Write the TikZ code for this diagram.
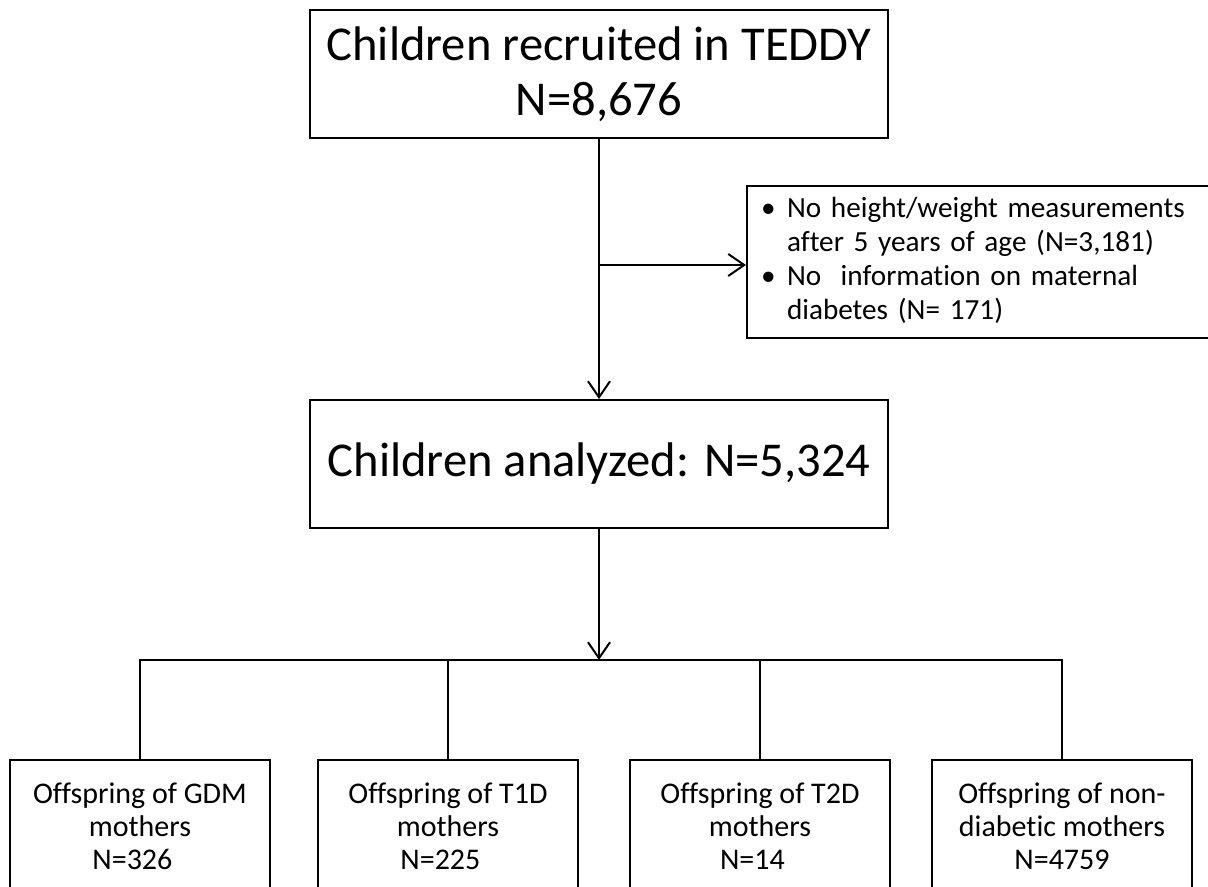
\documentclass[tikz,border=0pt]{standalone}
\usepackage{fontspec}
\setmainfont{Carlito}[Ligatures={TeX,NoCommon}]
\usepackage{tikz}
\usetikzlibrary{shapes,arrows.meta}

\begin{document}
\begin{tikzpicture}[%
  x=0.5pt,y=-0.5pt,
  bigbox/.style={draw,line width=1pt,minimum width=289pt,minimum height=64pt,
    align=center,font=\fontsize{24.3}{27.5}\selectfont},
  subbox/.style={draw,line width=1pt,minimum width=130pt,minimum height=66pt,
    align=center,font=\fontsize{15}{16.5}\selectfont},
  exclbox/.style={draw,line width=1pt,text width=232pt,inner xsep=7pt,
    inner ysep=4pt,minimum height=72pt,align=left,
    font=\fontsize{14.6}{17}\selectfont},
  link/.style={line width=1pt},
  arr/.style={line width=1pt,-{Straight Barb[length=8pt,width=11pt]}}]
  \useasboundingbox (0,0) rectangle (1208,887);
  \fill[white] (0,0) rectangle (1208,887);

  \node[bigbox] (recruited) at (599,74) {Children recruited in TEDDY\\N=8,676};
  \node[bigbox] (analyzed) at (599,464) {Children analyzed: N=5,324};
  \node[exclbox,anchor=west] (excluded) at (746,262) {%
    \begin{tabular}{@{}p{13pt}@{}l@{}}
      \textbullet & No height/weight measurements\\
                  & after 5 years of age (N=3,181)\\
      \textbullet & No\ \ information on maternal\\
                  & diabetes (N= 171)
    \end{tabular}};

  % groups by maternal diabetes
  \node[subbox] (gdm) at (140,826) {Offspring of GDM\\mothers\\N=326\hphantom{0}};
  \node[subbox] (tone) at (448,826) {Offspring of T1D\\mothers\\N=225\hphantom{0}};
  \node[subbox] (ttwo) at (760,826) {Offspring of T2D\\mothers\\N=14\hphantom{0}};
  \node[subbox] (nondiab) at (1062,826) {Offspring of non-\\diabetic mothers\\N=4759};

  \coordinate (split) at (599,265);
  \coordinate (bus) at (599,660);

  \draw[link] (recruited) -- (split);
  \draw[arr] (split) -- (analyzed);
  \draw[arr] (split) -- (excluded.west |- split);
  \draw[arr] (analyzed) -- (bus);
  \draw[link] (gdm.north) |- (bus) -| (nondiab.north);
  \draw[link] (tone.north) -- (tone.north |- bus);
  \draw[link] (ttwo.north) -- (ttwo.north |- bus);
\end{tikzpicture}
\end{document}
